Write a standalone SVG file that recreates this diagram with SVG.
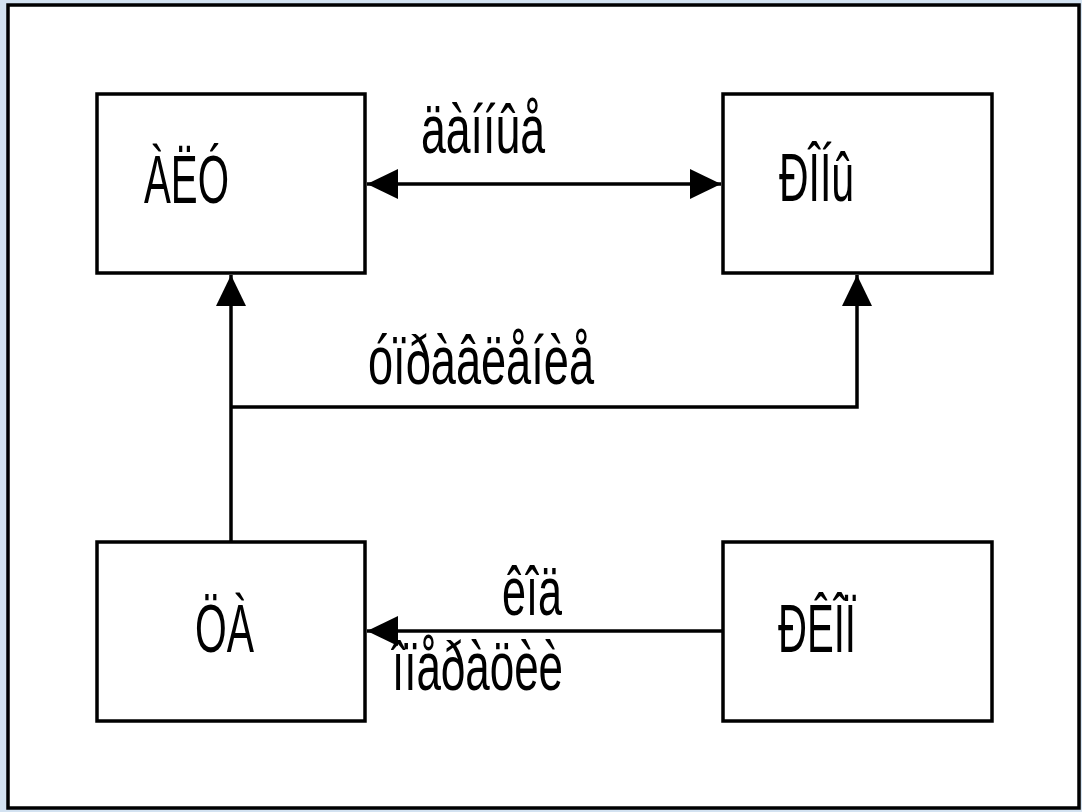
<svg xmlns="http://www.w3.org/2000/svg" width="1082" height="812" viewBox="0 0 1082 812">
<style>
.box{fill:#fff;stroke:#000;stroke-width:3.5}
.lbl{font-family:"Liberation Sans",Arial,sans-serif;font-size:68px;fill:#000}
.con{fill:none;stroke:#000;stroke-width:3.5}
</style>
<defs>
<marker id="ah" markerUnits="userSpaceOnUse" markerWidth="34" markerHeight="32" refX="31" refY="15" orient="auto-start-reverse">
<path d="M0,0 L31,15 L0,30 z" fill="#000"/>
</marker>
</defs>
<rect x="0" y="0" width="1082" height="812" fill="#d3e2f1"/>
<rect x="8" y="5" width="1071" height="803" fill="#fff" stroke="#000" stroke-width="3.5"/>
<g id="connectors">
<line class="con" x1="367" y1="184" x2="721" y2="184" marker-start="url(#ah)" marker-end="url(#ah)"/>
<line class="con" x1="231" y1="542" x2="231" y2="275" marker-end="url(#ah)"/>
<polyline class="con" points="231,407 857,407 857,275" marker-end="url(#ah)"/>
<line class="con" x1="723" y1="631" x2="367" y2="631" marker-end="url(#ah)"/>
<text class="lbl" x="421" y="153" textLength="124" lengthAdjust="spacingAndGlyphs">äàííûå</text>
<text class="lbl" x="368" y="384" textLength="226" lengthAdjust="spacingAndGlyphs">óïðàâëåíèå</text>
<text class="lbl" x="502" y="615" textLength="60" lengthAdjust="spacingAndGlyphs">êîä</text>
<text class="lbl" x="392" y="690" textLength="171" lengthAdjust="spacingAndGlyphs">îïåðàöèè</text>
</g>
<g id="alu">
<rect class="box" x="97" y="94" width="268" height="179"/>
<text class="lbl" x="144" y="203" textLength="85" lengthAdjust="spacingAndGlyphs">ÀËÓ</text>
</g>
<g id="rony">
<rect class="box" x="723" y="94" width="269" height="179"/>
<text class="lbl" x="779" y="201" textLength="75" lengthAdjust="spacingAndGlyphs">ÐÎÍû</text>
</g>
<g id="ca">
<rect class="box" x="97" y="542" width="268" height="179"/>
<text class="lbl" x="195" y="652" textLength="59" lengthAdjust="spacingAndGlyphs">ÖÀ</text>
</g>
<g id="rkop">
<rect class="box" x="723" y="542" width="269" height="179"/>
<text class="lbl" x="778" y="652" textLength="78" lengthAdjust="spacingAndGlyphs">ÐÊÎÏ</text>
</g>
</svg>
